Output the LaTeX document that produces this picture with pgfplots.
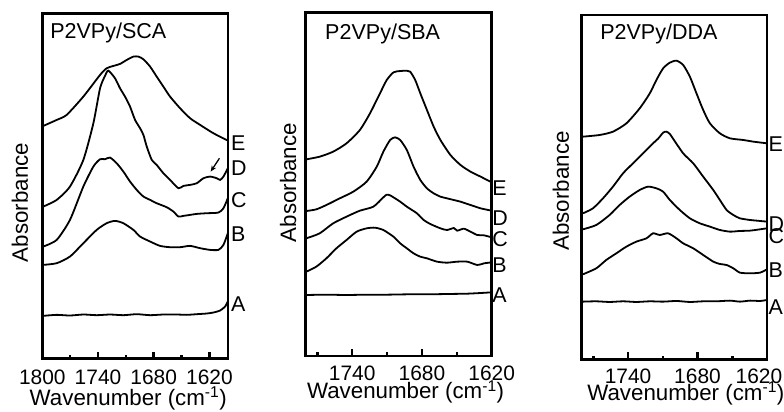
\documentclass[border=0pt]{standalone}
\usepackage{fontspec}
\setmainfont{Liberation Sans}
\usepackage{pgfplots}
\pgfplotsset{compat=1.18}
\usetikzlibrary{arrows.meta}

\tikzset{lbl/.style={anchor=west, inner sep=0pt, font=\fontsize{21.5}{25}\selectfont},
         ttl/.style={anchor=base west, inner sep=0pt, font=\fontsize{21.6}{25}\selectfont},
         sp/.style={black, line width=1.8bp, smooth, tension=0.4, mark=none}}
\pgfplotsset{
  spec/.style={
    scale only axis,
    x dir=reverse,
    clip=false,
    axis line style={line width=2.5bp},
    every tick/.style={line width=2.5bp, black},
    tick align=inside,
    xtick pos=bottom,
    ytick=\empty,
    major tick length=7bp,
    minor tick length=3.5bp,
    minor xtick={1770,1710,1650},
    font=\fontsize{21}{25}\selectfont,
    /pgf/number format/assume math mode=true,
    /pgf/number format/1000 sep={},
    xticklabel style={anchor=north, inner sep=0pt},
    ylabel={Absorbance},
    xlabel={Wavenumber (cm\textsuperscript{-1})},
    every axis x label/.append style={font=\fontsize{22.4}{26}\selectfont},
    every axis y label/.append style={font=\fontsize{22.4}{26}\selectfont},
  },
}

\begin{document}
\begin{tikzpicture}
\path[use as bounding box] (0bp,0bp) rectangle (784bp,412bp);

% ---------------- Panel 1: P2VPy/SCA ----------------
\begin{axis}[spec,
  at={(42.3bp,53.5bp)}, anchor=south west,
  width=185.7bp, height=345.2bp,
  xmin=1600, xmax=1800, ymin=0, ymax=1036,
  xtick={1800,1740,1680,1620},
  xticklabel style={yshift=-11.5bp},
  ylabel style={at={(axis description cs:-0.077,0.452)}, anchor=base},
  xlabel style={at={(axis description cs:0.463,-0.1347)}, anchor=base},
]
% E
\addplot[sp] coordinates {(1798.9,698) (1784.5,716) (1773.8,731) (1755.8,786) (1737.8,851) (1730.7,871) (1723.5,878) (1716.3,884) (1709.1,896) (1701.9,906) (1696.5,906) (1691.1,898) (1683.9,876) (1676.8,846) (1669.6,816) (1662.4,786) (1651.6,751) (1640.8,721) (1630.0,701) (1615.7,676) (1600.2,654)};
% D
\addplot[sp] coordinates {(1798.9,456) (1784.5,476) (1770.2,516) (1755.8,596) (1745.0,706) (1737.8,811) (1732.5,848) (1728.9,864) (1721.7,841) (1716.3,811) (1710.9,786) (1705.5,756) (1700.1,716) (1694.7,691) (1691.1,671) (1687.5,636) (1682.1,596) (1676.8,581) (1669.6,556) (1662.4,536) (1653.4,511) (1648.0,518) (1640.8,521) (1633.6,526) (1626.5,541) (1619.3,546) (1612.1,541) (1608.5,536) (1604.9,546) (1600.2,571)};
% C
\addplot[sp] coordinates {(1798.9,336) (1784.5,356) (1770.2,416) (1755.8,516) (1745.0,576) (1737.8,598) (1732.5,598) (1727.1,603) (1719.9,586) (1712.7,561) (1705.5,531) (1698.3,506) (1691.1,486) (1683.9,476) (1676.8,466) (1666.0,454) (1658.8,441) (1653.4,426) (1648.0,428) (1640.8,431) (1633.6,434) (1622.9,436) (1610.3,438) (1604.9,451) (1600.2,481)};
% B
\addplot[sp] coordinates {(1798.9,281) (1784.5,286) (1770.2,306) (1755.8,346) (1741.4,386) (1730.7,406) (1721.7,413) (1712.7,406) (1701.9,386) (1694.7,366) (1683.9,351) (1673.2,338) (1662.4,334) (1651.6,334) (1640.8,338) (1630.0,331) (1619.3,326) (1610.3,326) (1604.9,341) (1600.2,376)};
% A
\addplot[sp] coordinates {(1798.9,128) (1784.5,131) (1770.2,129) (1755.8,132) (1741.4,130) (1727.1,132) (1712.7,130) (1698.3,133) (1683.9,130) (1669.6,132) (1655.2,132) (1644.4,131) (1633.6,133) (1622.9,135) (1615.7,138) (1608.5,144) (1603.1,156) (1600.2,171)};
\node[lbl, xshift=3bp] at (axis cs:1600,646) {E};
\node[lbl, xshift=3bp] at (axis cs:1600,571) {D};
\node[lbl, xshift=3bp] at (axis cs:1600,476) {C};
\node[lbl, xshift=3bp] at (axis cs:1600,373) {B};
\node[lbl, xshift=3bp] at (axis cs:1600,164) {A};
\node[ttl] at (axis description cs:0.042,0.9284) {P2VPy/SCA};
\draw[line width=1.3bp, -{Stealth[length=6bp,width=5bp]}] (axis cs:1609.2,601) -- (axis cs:1618.6,561);
\end{axis}

% ---------------- Panel 2: P2VPy/SBA ----------------
\begin{axis}[spec,
  at={(305.7bp,56bp)}, anchor=south west,
  width=186bp, height=343.3bp,
  xmin=1620, xmax=1780, ymin=0, ymax=1030,
  xtick={1740,1680,1620},
  xticklabel style={yshift=-9.5bp},
  ylabel style={at={(axis description cs:-0.052,0.505)}, anchor=base},
  xlabel style={at={(axis description cs:0.537,-0.124)}, anchor=base},
]
% E
\addplot[sp] coordinates {(1779.5,590) (1768.0,598) (1756.4,613) (1744.9,638) (1733.4,678) (1724.7,728) (1716.1,788) (1710.3,828) (1704.5,851) (1698.7,855) (1693.0,856) (1690.1,853) (1685.8,828) (1681.4,788) (1675.7,738) (1669.9,688) (1664.1,648) (1655.5,603) (1646.8,573) (1638.2,553) (1629.5,538) (1620.0,521)};
% D
\addplot[sp] coordinates {(1779.5,435) (1770.9,440) (1762.2,453) (1750.7,473) (1739.1,493) (1727.6,523) (1718.9,568) (1713.2,613) (1707.4,648) (1703.1,656) (1698.7,648) (1693.0,618) (1687.2,568) (1681.4,528) (1675.7,503) (1669.9,488) (1664.1,478) (1658.4,473) (1652.6,468) (1646.8,463) (1638.2,453) (1629.5,443) (1620.0,436)};
% C
\addplot[sp] coordinates {(1779.5,353) (1768.0,368) (1756.4,398) (1744.9,418) (1733.4,436) (1721.8,448) (1713.2,476) (1710.3,484) (1707.4,482) (1704.5,476) (1698.7,463) (1693.0,448) (1684.3,428) (1678.5,408) (1672.8,396) (1664.1,383) (1658.4,378) (1652.6,384) (1649.7,376) (1644.0,382) (1638.2,373) (1632.4,363) (1626.6,362) (1620.0,356)};
% B
\addplot[sp] coordinates {(1779.5,253) (1770.9,268) (1762.2,293) (1753.6,323) (1744.9,348) (1736.2,373) (1727.6,383) (1720.4,385) (1713.2,378) (1704.5,358) (1698.7,338) (1693.0,323) (1687.2,308) (1681.4,298) (1675.7,293) (1667.0,283) (1658.4,280) (1649.7,283) (1641.0,283) (1632.4,273) (1626.6,278) (1620.0,281)};
% A
\addplot[sp] coordinates {(1779.5,183) (1762.2,184) (1744.9,183) (1727.6,184) (1710.3,184) (1693.0,185) (1675.7,185) (1658.4,186) (1641.0,187) (1629.5,189) (1620.0,191)};
\node[lbl, xshift=0.5bp] at (axis cs:1620,503) {E};
\node[lbl, xshift=0.5bp] at (axis cs:1620,413) {D};
\node[lbl, xshift=0.5bp] at (axis cs:1620,351) {C};
\node[lbl, xshift=0.5bp] at (axis cs:1620,273) {B};
\node[lbl, xshift=0.5bp] at (axis cs:1620,183) {A};
\node[ttl] at (axis description cs:0.104,0.9225) {P2VPy/SBA};
\end{axis}

% ---------------- Panel 3: P2VPy/DDA ----------------
\begin{axis}[spec,
  at={(581.7bp,52.7bp)}, anchor=south west,
  width=185.3bp, height=344.3bp,
  xmin=1620, xmax=1780, ymin=0, ymax=1033,
  xtick={1740,1680},
  extra x ticks={1620},
  extra x tick style={xticklabel style={xshift=-8bp}},
  xticklabel style={yshift=-9.5bp},
  ylabel style={at={(axis description cs:-0.069,0.489)}, anchor=base},
  xlabel style={at={(axis description cs:0.562,-0.119)}, anchor=base},
]
% E
\addplot[sp] coordinates {(1778.9,668) (1764.5,673) (1753.0,683) (1741.4,708) (1729.9,753) (1721.2,798) (1715.5,838) (1709.7,873) (1703.9,890) (1698.2,896) (1692.4,883) (1686.6,848) (1680.9,798) (1675.1,748) (1669.3,708) (1660.7,678) (1652.0,663) (1640.5,658) (1631.8,653) (1620.0,648)};
% D
\addplot[sp] coordinates {(1778.9,438) (1770.3,453) (1761.6,483) (1753.0,518) (1744.3,558) (1735.7,588) (1727.0,618) (1718.4,648) (1714.0,662) (1709.7,680) (1706.8,683) (1703.9,676) (1701.1,662) (1692.4,618) (1683.7,588) (1675.1,548) (1666.4,508) (1660.7,478) (1654.9,448) (1649.1,433) (1643.4,423) (1634.7,418) (1628.9,416) (1620.0,413)};
% C
\addplot[sp] coordinates {(1778.9,390) (1767.4,403) (1755.9,433) (1747.2,463) (1738.6,488) (1729.9,508) (1722.7,518) (1715.5,513) (1709.7,503) (1703.9,478) (1695.3,448) (1686.6,423) (1678.0,408) (1669.3,398) (1660.7,388) (1652.0,383) (1643.4,385) (1634.7,386) (1626.0,390) (1620.0,393)};
% B
\addplot[sp] coordinates {(1778.9,255) (1767.4,273) (1758.8,298) (1750.1,318) (1741.4,338) (1732.8,353) (1724.1,363) (1718.4,378) (1712.6,373) (1705.4,378) (1698.2,363) (1692.4,348) (1683.7,333) (1675.1,313) (1666.4,293) (1660.7,286) (1654.9,283) (1649.1,273) (1643.4,260) (1634.7,258) (1626.0,260) (1620.0,270)};
% A
\addplot[sp] coordinates {(1778.9,173) (1767.4,174) (1755.9,172) (1744.3,174) (1732.8,172) (1721.2,174) (1709.7,173) (1698.2,175) (1686.6,172) (1675.1,174) (1663.6,174) (1652.0,176) (1643.4,173) (1634.7,176) (1626.0,175) (1620.0,178)};
\node[lbl, xshift=1.5bp] at (axis cs:1620,646) {E};
\node[lbl, xshift=1.5bp] at (axis cs:1620,407) {D};
\node[lbl, xshift=1.5bp] at (axis cs:1620,370) {C};
\node[lbl, xshift=1.5bp] at (axis cs:1620,267) {B};
\node[lbl, xshift=1.5bp] at (axis cs:1620,158) {A};
\node[ttl] at (axis description cs:0.0993,0.9294) {P2VPy/DDA};
\end{axis}
\end{tikzpicture}
\end{document}
